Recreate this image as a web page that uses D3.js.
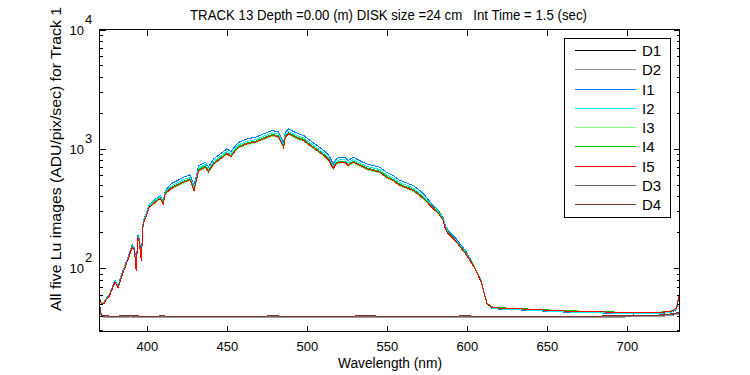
<!DOCTYPE html>
<html><head><meta charset="utf-8">
<script src="https://cdn.jsdelivr.net/npm/d3@7"></script>
<style>
body{margin:0;background:#fff}
text{font-family:Arial,"Liberation Sans",Helvetica,sans-serif;fill:#000}
</style>
</head><body>
<svg id="c" width="750" height="375"></svg>
<script>
// ---------- data ----------
const titleText = "TRACK 13 Depth =0.00 (m) DISK size =24 cm   Int Time = 1.5 (sec)";
const xLabel = "Wavelength (nm)";
const yLabel = "All five Lu images (ADU/pix/sec) for Track 1";
const xTicks = [400, 450, 500, 550, 600, 650, 700];
const yTickExps = [2, 3, 4];
const seriesNames = ["D1","D2","I1","I2","I3","I4","I5","D3","D4"];
const seriesColors = ["#000000","#999999","#0080ff","#00ffff","#80ff80","#00c000","#ff0000","#806262","#803434"];

const wavelength = [370.4,371.5,373,375,376.5,378,380,382,384.5,386.6,388.7,390.8,392.3,393.3,394.4,395.3,396.5,397.7,399.4,401.5,
 404,406.6,408.5,410.2,411.5,415,419,423,427,429.5,432.4,436.6,438.5,441.8,446,450,452.5,455,457.5,462.7,
 467.9,473,478.2,482.3,485.5,486.5,488.6,491.8,494.9,498,502,506.5,510.6,513.8,516.5,518,520.6,523.6,525.8,528.9,
 533,537.3,541.5,545.6,549.8,554,558,562.3,566.5,570.6,573.8,578.9,582,585.2,586.5,588.3,593.5,599.8,605,609,
 611.1,612.6,615.4,620,631,645,662,683,704,720,728,731,732.8];

const I1 = [57,51,51,57,60,67,79,71,91,108,129,158,147,104,190,174,125,
 249,283,343,366,391,403,367,445,
 508,541,578,605,492,724,772,704,823,906,999,946,1045,1134,1211,1250,1334,1421,1392,1122,1375,1471,1392,1334,1293,
 1173,1065,967,878,747,814,850,850,796,850,796,747,724,701,636,596,545,518,492,447,406,
 333,307,266,228,206,175,136,101,78,60,51,
 46,45.3,44.7,43.8,42.7,42.1,41.2,41.5,42.6,45,58];
const I2 = [57,51,51,56,59,66,78,69,89,105,125,153,143,97,185,168,117,
 244,278,337,359,384,395,360,437,
 485,517,551,578,469,691,737,672,785,865,953,903,998,1083,1156,1193,1274,1357,1328,1071,1313,1404,1328,1274,1234,
 1119,1016,923,838,713,777,812,812,760,812,760,713,691,669,607,569,520,495,469,426,390,
 323,299,259,221,200,170,132,100,77,60,50.5,
 46.3,45.5,44.9,44,42.9,42.4,41.4,41.7,42.8,45.3,59];
const I3 = [56,50,50,55,58,65,76,68,87,103,122,149,139,96,180,164,116,
 233,265,321,342,366,377,344,416,
 455,485,517,542,440,648,691,630,737,812,894,847,936,1016,1084,1119,1195,1273,1246,1005,1231,1317,1246,1195,1157,
 1050,953,866,786,669,729,761,761,713,761,713,669,648,627,569,534,488,464,440,400,367,
 311,287,249,214,193,165,129,100,77,60,51,
 47.4,46.5,45.9,45.0,43.9,43.3,42.3,42.6,43.8,46.3,61];
const I4 = [57,50,51,56,59,66,77,69,88,104,124,152,142,98,184,167,118,
 239,272,330,352,376,388,353,428,
 471,502,536,561,456,671,716,653,763,840,926,877,969,1052,1123,1159,1237,1318,1290,1040,1275,1364,1290,1237,1199,
 1087,987,897,814,693,755,788,788,738,788,738,693,671,650,590,553,505,480,456,414,380,
 320,296,256,219,198,168,131,101,77,60,51,
 47.3,46.5,45.9,44.9,43.9,43.2,42.3,42.5,43.7,46.2,61];
const I5 = [56,50,50,55,58,65,76,68,87,103,123,150,140,95,181,165,115,
 235,267,324,345,369,380,346,420,
 462,492,525,550,447,658,702,640,748,824,908,860,950,1031,1101,1136,1213,1292,1265,1020,1250,1337,1265,1213,1175,
 1066,968,879,798,679,740,773,773,724,773,724,679,658,637,578,542,495,471,447,406,373,
 314,290,251,215,194,165,128,99,76,59,50,
 47,46.2,45.6,44.7,43.6,43,42,42.3,43.5,46,60];

const darkWavelength = [370.4,371.5,373,380,390,400,410,420,440,460,480,500,520,540,560,580,600,620,640,660,680,700,715,725,732.8];
const D1 = [48,40,39.3,39.1,39.4,39.0,39.3,38.9,39.2,39.0,39.3,38.8,39.1,39.2,38.9,39.0,39.2,38.8,39.0,38.9,39.1,39.3,39.6,40.2,41.5];
const D2 = [47,39.5,38.8,38.7,38.9,38.6,38.8,38.5,38.7,38.6,38.8,38.4,38.7,38.8,38.5,38.6,38.8,38.5,38.6,38.5,38.7,38.9,39.2,39.7,41];
const D3 = [49,40.2,39.5,39.4,39.6,39.3,39.5,39.2,39.4,39.3,39.5,39.1,39.4,39.5,39.2,39.3,39.5,39.1,39.3,39.2,39.4,39.6,39.9,40.5,42];
const D4 = [50,40.4,39.7,39.6,39.8,39.5,39.7,39.4,39.6,39.5,39.7,39.3,39.6,39.7,39.4,39.5,39.7,39.3,39.5,39.4,39.6,39.8,40.1,40.7,42.5];

const xDomain = [370.4, 732.9];
const yDomain = [29.4, 10000];

// ---------- layout ----------
const L = 99.5, R = 679.5, T = 29.5, B = 331.5;
const svg = d3.select("#c");
const x = d3.scaleLinear().domain(xDomain).range([L, R]);
const y = d3.scaleLog().domain(yDomain).range([B, T]);

const seriesData = {
  D1: [darkWavelength, D1], D2: [darkWavelength, D2],
  I1: [wavelength, I1], I2: [wavelength, I2], I3: [wavelength, I3],
  I4: [wavelength, I4], I5: [wavelength, I5],
  D3: [darkWavelength, D3], D4: [darkWavelength, D4]
};

svg.append("defs").append("clipPath").attr("id","clip")
  .append("rect").attr("x", L).attr("y", T).attr("width", R - L).attr("height", B - T);

const line = d3.line().x(d => x(d[0])).y(d => y(d[1]));
const g = svg.append("g").attr("clip-path","url(#clip)");
seriesNames.forEach((n, i) => {
  const [wl, vals] = seriesData[n];
  const pts = wl.map((w, k) => [w, vals[k]]);
  g.append("path").datum(pts).attr("d", line)
    .attr("fill","none").attr("stroke", seriesColors[i]).attr("stroke-width", 1)
    .attr("shape-rendering","crispEdges");
});

// axes box
const axG = svg.append("g").attr("shape-rendering","crispEdges").attr("stroke","#000").attr("stroke-width",1);
axG.append("rect").attr("x", L).attr("y", T).attr("width", R - L).attr("height", B - T).attr("fill","none");

// x ticks (bottom and top)
const xAxisB = d3.axisBottom(x).tickValues(xTicks).tickSize(0).tickFormat(d => d);
xTicks.forEach(t => {
  axG.append("line").attr("x1", Math.round(x(t)) + 0.5).attr("x2", Math.round(x(t)) + 0.5).attr("y1", B).attr("y2", B - 6);
  axG.append("line").attr("x1", Math.round(x(t)) + 0.5).attr("x2", Math.round(x(t)) + 0.5).attr("y1", T).attr("y2", T + 6);
});
const xa = svg.append("g").attr("transform", `translate(0,${B})`).call(xAxisB);
xa.select(".domain").remove();
xa.selectAll("text").attr("font-size", 13).attr("dy", 0).attr("y", 19).attr("fill","#000")
  .style("font-family","Arial,'Liberation Sans',sans-serif");

// y ticks (log, major + minor) on left and right
const yTicksAll = y.ticks();
yTicksAll.forEach(t => {
  const major = Math.abs(Math.log10(t) - Math.round(Math.log10(t))) < 1e-9;
  const len = major ? 6 : 3;
  const yy = Math.round(y(t)) + 0.5;
  axG.append("line").attr("x1", L).attr("x2", L + len).attr("y1", yy).attr("y2", yy);
  axG.append("line").attr("x1", R).attr("x2", R - len).attr("y1", yy).attr("y2", yy);
});
yTickExps.forEach(e => {
  const yy = y(Math.pow(10, e));
  svg.append("text").attr("x", 84).attr("y", yy + 5).attr("text-anchor","end").attr("font-size", 13).text("10");
  svg.append("text").attr("x", 85).attr("y", yy - 6).attr("text-anchor","start").attr("font-size", 13).text(e);
});

// labels
svg.append("text").attr("x", 388.5).attr("y", 20).attr("text-anchor","middle").attr("font-size", 14)
  .style("white-space","pre").attr("xml:space","preserve")
  .attr("textLength", 397).attr("lengthAdjust","spacingAndGlyphs").text(titleText);
svg.append("text").attr("x", 390).attr("y", 368).attr("text-anchor","middle").attr("font-size", 14)
  .attr("textLength", 104).attr("lengthAdjust","spacingAndGlyphs").text(xLabel);
svg.append("text").attr("transform", "translate(61,159) rotate(-90)").attr("text-anchor","middle").attr("font-size", 15)
  .attr("textLength", 304).attr("lengthAdjust","spacingAndGlyphs").text(yLabel);

// legend
const lg = svg.append("g");
lg.append("rect").attr("x", 564.5).attr("y", 38.5).attr("width", 106).attr("height", 179)
  .attr("fill","#fff").attr("stroke","#000").attr("shape-rendering","crispEdges");
seriesNames.forEach((n, i) => {
  const yy = Math.round(50 + i * 19.25) + 0.5;
  lg.append("line").attr("x1", 575).attr("x2", 636).attr("y1", yy).attr("y2", yy)
    .attr("stroke", seriesColors[i]).attr("shape-rendering","crispEdges");
  lg.append("text").attr("x", 642).attr("y", yy + 5.5).attr("font-size", 15).text(n);
});
</script>
</body></html>
